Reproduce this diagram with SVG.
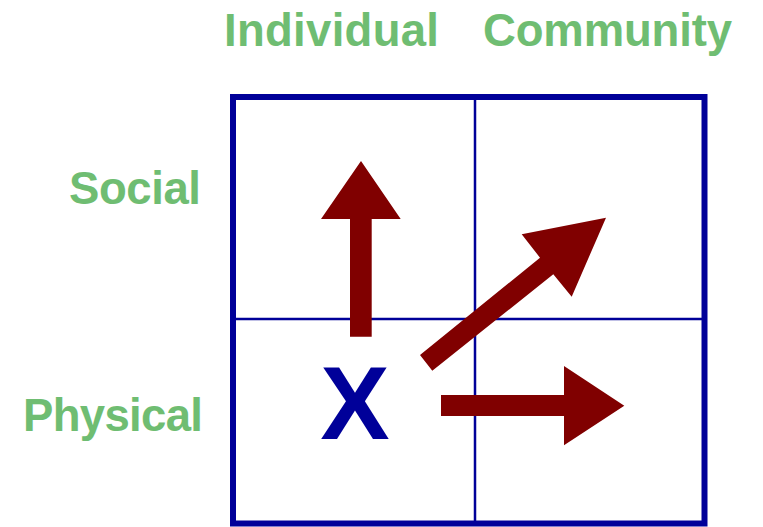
<svg xmlns="http://www.w3.org/2000/svg" width="763" height="527" viewBox="0 0 763 527">
<style>
.lbl{font-family:"Liberation Sans",Arial,sans-serif;font-weight:bold;font-size:45.5px;fill:#6fbd72}
.grid{fill:none;stroke:#000099}
.arr{fill:#800000}
</style>
<rect width="763" height="527" fill="#ffffff"/>
<g id="labels">
<text class="lbl" x="224" y="46" textLength="215" lengthAdjust="spacing">Individual</text>
<text class="lbl" x="483" y="46" textLength="249" lengthAdjust="spacing">Community</text>
<text class="lbl" x="69" y="204" textLength="132" lengthAdjust="spacing">Social</text>
<text class="lbl" x="23" y="431" textLength="180" lengthAdjust="spacing">Physical</text>
</g>
<g id="grid">
<rect class="grid" x="233" y="97" width="471.5" height="426.5" stroke-width="6"/>
<line class="grid" x1="475" y1="97" x2="475" y2="523.5" stroke-width="2.5"/>
<line class="grid" x1="233" y1="319" x2="704.5" y2="319" stroke-width="2.5"/>
</g>
<g id="x-node">
<text x="355" y="439" text-anchor="middle" style="font-family:'Liberation Sans',Arial,sans-serif;font-weight:bold;font-size:104px;fill:#000099">X</text>
</g>
<g id="connectors">
<polygon class="arr" points="350,336.7 350,219 321,219 361,161 400.7,219 371.7,219 371.7,336.7"/>
<polygon class="arr" points="441,395 564,395 564,366 624.3,405.7 564,445.3 564,416 441,416"/>
<polygon class="arr" points="420,355 540,257.7 521.7,234.3 606,217.7 571.7,296.7 553.3,274.3 432.3,370.7"/>
</g>
</svg>
